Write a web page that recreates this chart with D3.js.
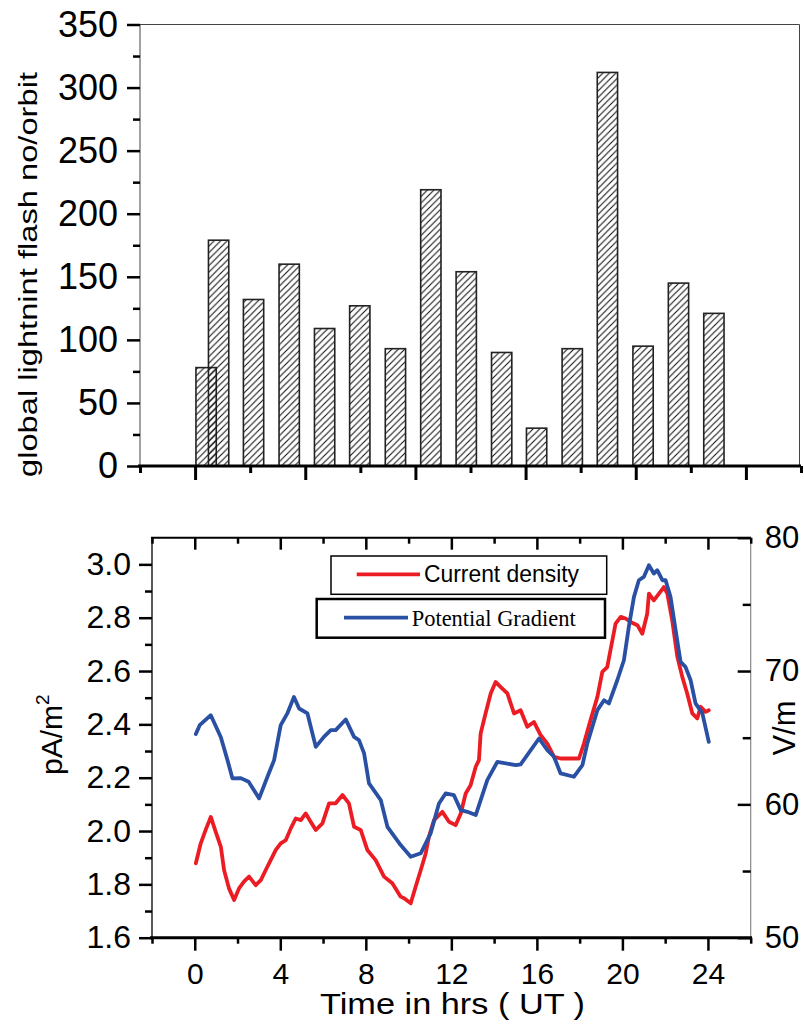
<!DOCTYPE html>
<html><head><meta charset="utf-8">
<script src="https://cdn.jsdelivr.net/npm/d3@7"></script>
<style>html,body{margin:0;padding:0;background:#fff;}svg{display:block;}</style>
</head><body>
<script>
// ---------- DATA ----------
const barHours  = [0.80, 1.33, 2.81, 4.32, 5.82, 7.31, 8.82, 10.32, 11.82, 13.32, 14.80, 16.31, 17.80, 19.31, 20.81, 22.31];
const barCounts = [78, 179, 132, 160, 109, 127, 93, 219, 154, 90, 30, 93, 312, 95, 145, 121];
const topYTicks = [0, 50, 100, 150, 200, 250, 300, 350];

const redHours = [0.05,0.28,0.51,0.75,0.98,1.22,1.37,1.60,1.84,2.07,2.30,2.54,2.85,3.09,3.32,3.55,3.79,4.02,4.26,4.49,4.72,4.96,5.19,5.42,5.66,5.97,6.28,6.59,6.91,7.21,7.45,7.76,8.07,8.46,8.85,9.24,9.63,9.79,10.10,10.33,10.57,10.80,10.95,11.19,11.58,11.89,12.20,12.44,12.67,12.90,13.14,13.29,13.37,13.60,13.84,14.07,14.31,14.62,14.93,15.24,15.55,15.86,16.18,16.49,16.80,17.11,17.58,17.97,18.20,18.51,18.83,19.06,19.29,19.53,19.68,19.92,20.15,20.38,20.70,20.93,21.16,21.24,21.47,21.71,21.94,22.10,22.33,22.57,22.80,23.03,23.27,23.50,23.66,23.89,24.04];
const redValues = [1.879,1.954,2.004,2.053,1.997,1.941,1.854,1.785,1.741,1.785,1.810,1.829,1.797,1.816,1.854,1.891,1.929,1.954,1.966,2.010,2.047,2.041,2.066,2.035,2.004,2.029,2.104,2.104,2.135,2.104,2.016,2.004,1.929,1.891,1.829,1.804,1.754,1.748,1.729,1.791,1.854,1.916,1.978,2.041,2.072,2.035,2.022,2.066,2.141,2.172,2.241,2.266,2.366,2.441,2.516,2.559,2.540,2.516,2.441,2.453,2.391,2.409,2.359,2.328,2.278,2.272,2.272,2.272,2.328,2.416,2.503,2.597,2.615,2.715,2.778,2.803,2.797,2.784,2.772,2.740,2.815,2.890,2.865,2.890,2.915,2.890,2.790,2.653,2.578,2.516,2.441,2.422,2.466,2.447,2.453];

const blueHours = [0.05,0.23,0.75,1.22,1.53,1.76,2.15,2.52,3.01,3.40,3.71,4.02,4.33,4.64,4.88,5.27,5.66,6.04,6.36,6.59,7.06,7.45,7.68,7.92,8.15,8.70,9.01,9.63,10.10,10.57,11.03,11.42,11.73,12.12,12.44,12.75,13.14,13.68,14.15,15.01,15.24,16.10,16.49,16.80,17.11,17.73,18.13,18.36,18.83,19.14,19.37,19.76,20.07,20.30,20.54,20.77,21.00,21.24,21.47,21.63,21.87,22.02,22.25,22.49,22.72,22.95,23.19,23.42,23.74,24.04];
const blueValues = [65.27,65.94,66.69,65.04,63.32,61.95,61.97,61.69,60.45,62.07,63.32,65.94,66.82,68.06,67.19,66.82,64.31,65.06,65.57,65.57,66.37,65.06,64.82,63.82,61.57,60.32,58.32,56.95,56.07,56.33,57.82,60.07,60.82,60.69,59.57,59.44,59.20,61.82,63.19,62.94,63.00,64.94,64.07,63.57,62.32,62.07,62.94,64.57,67.07,67.81,67.57,69.31,70.81,73.31,75.56,76.81,77.06,77.93,77.31,77.56,76.81,76.81,75.56,73.06,70.69,70.31,69.31,67.57,66.82,64.69];

const xTicksMajor = [0, 4, 8, 12, 16, 20, 24];
const xTicksMinor = [-2, 2, 6, 10, 14, 18, 22, 26];
const leftTicks = [1.6, 1.8, 2.0, 2.2, 2.4, 2.6, 2.8, 3.0];
const leftMinor = [1.7, 1.9, 2.1, 2.3, 2.5, 2.7, 2.9];
const rightTicks = [50, 60, 70, 80];
const rightMinor = [55, 65, 75];
const legendLabels = ["Current density", "Potential Gradient"];
const RED = "#ec1c24", BLUE = "#2a50a4";

// ---------- SVG ----------
const W = 804, H = 1033;
const svg = d3.select("body").append("svg").attr("width", W).attr("height", H)
  .style("font-family", "'Liberation Sans', Arial, sans-serif");

const defs = svg.append("defs");
const pat = defs.append("pattern").attr("id", "hatch").attr("patternUnits", "userSpaceOnUse")
  .attr("width", 6.5).attr("height", 6.5);
pat.append("path").attr("d", "M-1,7.5 L7.5,-1 M-1,1 L1,-1 M5.5,7.5 L7.5,5.5")
  .attr("stroke", "#111").attr("stroke-width", 1.1);

function styleAxis(g, sw) {
  g.select(".domain").remove();
  g.selectAll(".tick line").attr("stroke", "#000").attr("stroke-width", sw);
}

// ---------- TOP CHART ----------
const tx = d3.scaleLinear().domain([-2, 26]).range([140, 801]);
const ty = d3.scaleLinear().domain([0, 350]).range([466, 24.5]);

const topG = svg.append("g");
topG.append("line").attr("x1", 140).attr("x2", 140).attr("y1", 24.5).attr("y2", 466).attr("stroke", "#444").attr("stroke-width", 1);
topG.append("line").attr("x1", 140).attr("x2", 799.5).attr("y1", 24.5).attr("y2", 24.5).attr("stroke", "#444").attr("stroke-width", 1);
topG.append("line").attr("x1", 799.5).attr("x2", 799.5).attr("y1", 24.5).attr("y2", 466).attr("stroke", "#444").attr("stroke-width", 1);

const barW = 20.3 / (tx(1) - tx(0));
topG.selectAll("rect.bar").data(barHours).join("rect").attr("class", "bar")
  .attr("x", (d) => tx(d - barW / 2))
  .attr("width", (d) => tx(d + barW / 2) - tx(d - barW / 2))
  .attr("y", (d, i) => ty(barCounts[i]))
  .attr("height", (d, i) => ty(0) - ty(barCounts[i]))
  .attr("fill", "url(#hatch)").attr("stroke", "#222").attr("stroke-width", 1.6);

const tyMaj = topG.append("g").attr("transform", "translate(140,0)")
  .call(d3.axisLeft(ty).tickValues(topYTicks).tickSize(13).tickPadding(9).tickFormat(d3.format("d")));
styleAxis(tyMaj, 2.5);
tyMaj.selectAll("text").attr("font-size", 36).attr("fill", "#000").attr("font-family", "'Liberation Sans', Arial, sans-serif");
const tyMin = topG.append("g").attr("transform", "translate(140,0)")
  .call(d3.axisLeft(ty).tickValues(d3.range(25, 350, 50)).tickSize(7).tickFormat(""));
styleAxis(tyMin, 2.5);

const topXT = d3.range(0, 13).map(i => -2 + i * 28 / 12);
const txMaj = topG.append("g").attr("transform", "translate(0,466)")
  .call(d3.axisBottom(tx).tickValues(topXT.filter((d, i) => i % 2 === 1)).tickSize(14).tickFormat(""));
styleAxis(txMaj, 3);
const txMin = topG.append("g").attr("transform", "translate(0,466)")
  .call(d3.axisBottom(tx).tickValues(topXT.filter((d, i) => i % 2 === 0)).tickSize(7).tickFormat(""));
styleAxis(txMin, 3);
topG.append("line").attr("x1", 138).attr("x2", 801).attr("y1", 466).attr("y2", 466).attr("stroke", "#000").attr("stroke-width", 3);

topG.append("text").attr("transform", "translate(37,274.5) rotate(-90)")
  .attr("text-anchor", "middle").attr("font-size", 26)
  .attr("textLength", 405).attr("lengthAdjust", "spacingAndGlyphs")
  .text("global lightnint flash no/orbit");

// ---------- BOTTOM CHART ----------
const bx = d3.scaleLinear().domain([-2, 26]).range([152, 750.7]);
const byL = d3.scaleLinear().domain([1.6, 3.1]).range([937.7, 537.7]);
const byR = d3.scaleLinear().domain([50, 80]).range([937.7, 537.7]);
const bot = svg.append("g");

bot.append("line").attr("x1", 152).attr("x2", 152).attr("y1", 537.7).attr("y2", 937.7).attr("stroke", "#222").attr("stroke-width", 1.5);
bot.append("line").attr("x1", 151).attr("x2", 751).attr("y1", 537.7).attr("y2", 537.7).attr("stroke", "#000").attr("stroke-width", 2);
bot.append("line").attr("x1", 750.7).attr("x2", 750.7).attr("y1", 537.7).attr("y2", 937.7).attr("stroke", "#888").attr("stroke-width", 1.2);

const lineL = d3.line().x((d, i) => bx(redHours[i])).y(d => byL(d));
const lineR = d3.line().x((d, i) => bx(blueHours[i])).y(d => byR(d));
bot.append("path").datum(redValues).attr("d", lineL).attr("fill", "none")
  .attr("stroke", RED).attr("stroke-width", 3.8).attr("stroke-linejoin", "round").attr("stroke-linecap", "round");
bot.append("path").datum(blueValues).attr("d", lineR).attr("fill", "none")
  .attr("stroke", BLUE).attr("stroke-width", 3.8).attr("stroke-linejoin", "round").attr("stroke-linecap", "round");

const bl = bot.append("g").attr("transform", "translate(152,0)")
  .call(d3.axisLeft(byL).tickValues(leftTicks).tickSize(13).tickPadding(8).tickFormat(d3.format(".1f")));
styleAxis(bl, 2.5);
bl.selectAll("text").attr("font-size", 32).attr("fill", "#000").attr("font-family", "'Liberation Sans', Arial, sans-serif");
styleAxis(bot.append("g").attr("transform", "translate(152,0)")
  .call(d3.axisLeft(byL).tickValues(leftMinor).tickSize(7).tickFormat("")), 2.5);

const br = bot.append("g").attr("transform", "translate(750.7,0)")
  .call(d3.axisRight(byR).tickValues(rightTicks).tickSize(-13).tickPadding(14).tickFormat(d3.format("d")));
styleAxis(br, 2.5);
br.selectAll("text").attr("font-size", 31).attr("fill", "#000").attr("font-family", "'Liberation Sans', Arial, sans-serif");
styleAxis(bot.append("g").attr("transform", "translate(750.7,0)")
  .call(d3.axisRight(byR).tickValues(rightMinor).tickSize(-8).tickFormat("")), 2.5);

styleAxis(bot.append("g").attr("transform", "translate(0,537.7)")
  .call(d3.axisTop(bx).tickValues(xTicksMajor).tickSize(-12).tickFormat("")), 2.5);
styleAxis(bot.append("g").attr("transform", "translate(0,537.7)")
  .call(d3.axisTop(bx).tickValues(xTicksMinor).tickSize(-6).tickFormat("")), 2.5);

const bb = bot.append("g").attr("transform", "translate(0,937.7)")
  .call(d3.axisBottom(bx).tickValues(xTicksMajor).tickSize(13).tickPadding(12).tickFormat(d3.format("d")));
styleAxis(bb, 2.5);
bb.selectAll("text").attr("font-size", 30).attr("fill", "#000").attr("font-family", "'Liberation Sans', Arial, sans-serif");
styleAxis(bot.append("g").attr("transform", "translate(0,937.7)")
  .call(d3.axisBottom(bx).tickValues(xTicksMinor).tickSize(6).tickFormat("")), 2.5);
bot.append("line").attr("x1", 150).attr("x2", 752).attr("y1", 937.7).attr("y2", 937.7).attr("stroke", "#000").attr("stroke-width", 3);

bot.append("text").attr("x", 320).attr("y", 1014).attr("font-size", 30)
  .attr("textLength", 265).attr("lengthAdjust", "spacingAndGlyphs")
  .text("Time in hrs ( UT )");
const pa = bot.append("text").attr("transform", "translate(62,775) rotate(-90)").attr("font-size", 30);
pa.append("tspan").text("pA/m");
pa.append("tspan").attr("font-size", 19).attr("dy", -13).text("2");
bot.append("text").attr("transform", "translate(795,728) rotate(-90)").attr("text-anchor", "middle")
  .attr("font-size", 31).text("V/m");

const lg = bot.append("g");
lg.append("rect").attr("x", 331).attr("y", 556).attr("width", 275.7).attr("height", 38.3)
  .attr("fill", "#fff").attr("stroke", "#000").attr("stroke-width", 1.5);
lg.append("rect").attr("x", 316.7).attr("y", 599).attr("width", 288.3).attr("height", 38.7)
  .attr("fill", "#fff").attr("stroke", "#000").attr("stroke-width", 2.5);
lg.append("line").attr("x1", 356.7).attr("x2", 420).attr("y1", 574.3).attr("y2", 574.3)
  .attr("stroke", RED).attr("stroke-width", 3.8);
lg.append("text").attr("x", 424).attr("y", 581.7).attr("font-size", 23)
  .attr("textLength", 155).attr("lengthAdjust", "spacingAndGlyphs").text(legendLabels[0]);
lg.append("line").attr("x1", 344).attr("x2", 408).attr("y1", 617.7).attr("y2", 617.7)
  .attr("stroke", BLUE).attr("stroke-width", 3.8);
lg.append("text").attr("x", 411.7).attr("y", 625.7).attr("font-size", 24)
  .attr("font-family", "'Liberation Serif', 'Times New Roman', serif")
  .attr("textLength", 164).attr("lengthAdjust", "spacingAndGlyphs").text(legendLabels[1]);
</script>
</body></html>
